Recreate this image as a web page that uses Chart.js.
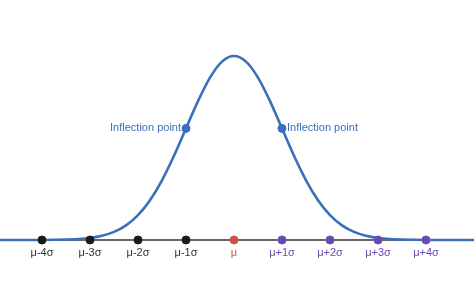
<!DOCTYPE html>
<html>
<head>
<meta charset="utf-8">
<script src="https://cdn.jsdelivr.net/npm/chart.js@4"></script>
<style>
  html, body { margin: 0; padding: 0; background: #fff; }
  #wrap { width: 474px; height: 301px; }
</style>
</head>
<body>
<div id="wrap"><canvas id="myChartCloche"></canvas></div>
<script>
//? Données de la courbe, x en sigma.

const courbeX = [-5, -4.75, -4.5, -4.25, -4, -3.75, -3.5, -3.25, -3, -2.75, -2.5, -2.25, -2, -1.75, -1.5, -1.25, -1, -0.75, -0.5, -0.25,
  0, 0.25, 0.5, 0.75, 1, 1.25, 1.5, 1.75, 2, 2.25, 2.5, 2.75, 3, 3.25, 3.5, 3.75, 4, 4.25, 4.5, 4.75, 5];
const courbeY = [0, 0, 0, 0, 0.0001, 0.0004, 0.0009, 0.002, 0.0044, 0.0091, 0.0175, 0.0317, 0.054, 0.0863, 0.1295, 0.1826, 0.242, 0.3011, 0.3521, 0.3867,
  0.3989, 0.3867, 0.3521, 0.3011, 0.242, 0.1826, 0.1295, 0.0863, 0.054, 0.0317, 0.0175, 0.0091, 0.0044, 0.002, 0.0009, 0.0004, 0.0001, 0, 0, 0, 0];

const repereX = [-4, -3, -2, -1, 0, 1, 2, 3, 4];
const repereLabels = ["μ-4σ", "μ-3σ", "μ-2σ", "μ-1σ", "μ", "μ+1σ", "μ+2σ", "μ+3σ", "μ+4σ"];
const repereCouleurs = ["#1a1a1a", "#1a1a1a", "#1a1a1a", "#1a1a1a", "#d0504b", "#6a4bb3", "#6a4bb3", "#6a4bb3", "#6a4bb3"];
const texteCouleurs = ["#333333", "#333333", "#333333", "#333333", "#d0504b", "#6a4bb3", "#6a4bb3", "#6a4bb3", "#6a4bb3"];

const inflexionX = [-1, 1];
const inflexionY = [0.242, 0.242];
const inflexionLabels = ["Inflection point", "Inflection point"];

const BLEU = "#3a70bb";

//? -------------------------------------------------

//? Plugin pour les textes (repères et points d'inflexion).

const pluginTextes = {
  id: "textes",
  afterDatasetsDraw(chart) {
    const ctx = chart.ctx;
    const sx = chart.scales.x;
    const sy = chart.scales.y;
    ctx.save();
    ctx.font = "11px 'Liberation Sans', Arial, sans-serif";
    ctx.textBaseline = "middle";
    ctx.textAlign = "center";
    repereX.forEach((v, i) => {
      ctx.fillStyle = texteCouleurs[i];
      ctx.fillText(repereLabels[i], sx.getPixelForValue(v), sy.getPixelForValue(0) + 13);
    });
    ctx.fillStyle = BLEU;
    inflexionX.forEach((v, i) => {
      const px = sx.getPixelForValue(v);
      const py = sy.getPixelForValue(inflexionY[i]);
      if (v < 0) {
        ctx.textAlign = "right";
        ctx.fillText(inflexionLabels[i], px - 5, py);
      } else {
        ctx.textAlign = "left";
        ctx.fillText(inflexionLabels[i], px + 5, py);
      }
    });
    ctx.restore();
  },
};

//? -------------------------------------------------

//? Construction du graphique.

const constructionDuGraphique = () => {
  try {
    const ctx = document.getElementById("myChartCloche").getContext("2d");

    const data = {
      datasets: [
        {
          label: "Points",
          data: repereX.map((x) => ({ x: x, y: 0 })),
          showLine: false,
          pointRadius: 4,
          pointBackgroundColor: repereCouleurs,
          pointBorderColor: repereCouleurs,
          order: 0,
        },
        {
          label: "Inflexion",
          data: inflexionX.map((x, i) => ({ x: x, y: inflexionY[i] })),
          showLine: false,
          pointRadius: 4,
          pointBackgroundColor: BLEU,
          pointBorderColor: BLEU,
          order: 1,
        },
        {
          label: "Courbe",
          data: courbeX.map((x, i) => ({ x: x, y: courbeY[i] })),
          borderColor: BLEU,
          borderWidth: 2.6,
          pointRadius: 0,
          cubicInterpolationMode: "monotone",
          order: 2,
        },
        {
          label: "Axe",
          data: [{ x: -5, y: 0 }, { x: 5, y: 0 }],
          borderColor: "#333333",
          borderWidth: 1.3,
          pointRadius: 0,
          order: 3,
        },
      ],
    };

    const options = {
      responsive: true,
      maintainAspectRatio: false,
      animation: { duration: 0 },
      layout: { padding: 0, autoPadding: false },
      plugins: {
        legend: { display: false },
        tooltip: { enabled: false },
      },
      scales: {
        x: { type: "linear", display: false, min: -4.875, max: 5 },
        y: { display: false, min: -0.1323, max: 0.5204 },
      },
    };

    new Chart(ctx, { type: "line", data, options, plugins: [pluginTextes] });
  } catch (error) {
    console.log("🔴 ERREUR | Construction graphique :", error);
  }
};

constructionDuGraphique();
</script>
</body>
</html>
